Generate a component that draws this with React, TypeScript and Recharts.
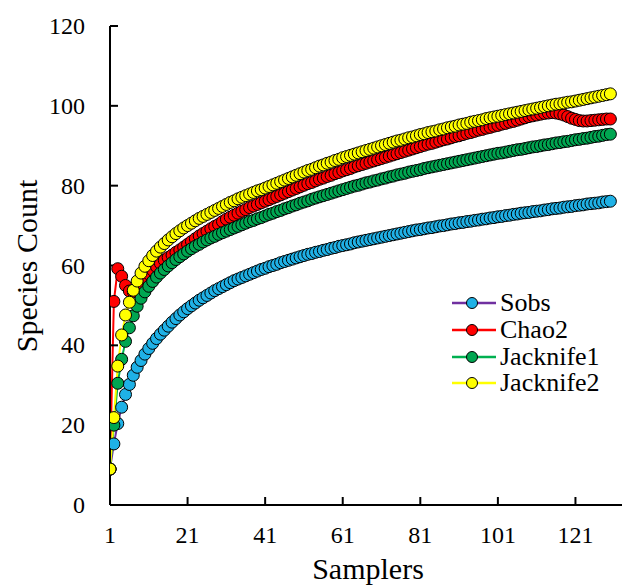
import React from "react";
import { LineChart, Line, XAxis, YAxis, Legend } from "recharts";

// species accumulation curves, one value per sampler (1..130)
const sobs = [
  9, 15.3, 20.4, 24.5, 27.7, 30.2, 32.5, 34.5, 36.2, 37.8,
  39.2, 40.5, 41.7, 42.8, 43.8, 44.8, 45.8, 46.7, 47.6, 48.4,
  49.2, 49.9, 50.6, 51.3, 51.9, 52.5, 53.1, 53.7, 54.2, 54.7,
  55.2, 55.7, 56.2, 56.6, 57.0, 57.4, 57.8, 58.2, 58.6, 59.0,
  59.3, 59.7, 60.0, 60.3, 60.7, 61.0, 61.3, 61.6, 61.9, 62.2,
  62.5, 62.8, 63.0, 63.3, 63.5, 63.8, 64.0, 64.3, 64.5, 64.8,
  65.0, 65.2, 65.4, 65.7, 65.9, 66.1, 66.3, 66.5, 66.7, 66.9,
  67.1, 67.3, 67.5, 67.7, 67.9, 68.1, 68.3, 68.5, 68.7, 68.9,
  69.0, 69.2, 69.4, 69.5, 69.7, 69.9, 70.0, 70.2, 70.4, 70.5,
  70.7, 70.8, 71.0, 71.1, 71.3, 71.4, 71.6, 71.7, 71.9, 72.0,
  72.2, 72.3, 72.5, 72.6, 72.8, 72.9, 73.1, 73.2, 73.3, 73.5,
  73.6, 73.7, 73.9, 74.0, 74.2, 74.3, 74.4, 74.6, 74.7, 74.8,
  75.0, 75.1, 75.2, 75.4, 75.5, 75.6, 75.7, 75.9, 76.0, 76.1,
];

const chao2 = [
  9, 51, 59.2, 57.3, 55, 53.6, 53.4, 54.3, 55.6, 56.8,
  57.9, 58.8, 59.7, 60.5, 61.3, 62.0, 62.6, 63.3, 63.9, 64.6,
  65.3, 66.0, 66.7, 67.4, 68.0, 68.6, 69.2, 69.8, 70.3, 71.0,
  71.6, 72.1, 72.6, 73.1, 73.6, 74.0, 74.5, 74.9, 75.3, 75.7,
  76.1, 76.5, 76.9, 77.3, 77.7, 78.1, 78.5, 78.9, 79.3, 79.7,
  80.1, 80.5, 80.8, 81.2, 81.6, 81.9, 82.3, 82.6, 83.0, 83.3,
  83.7, 84.0, 84.3, 84.7, 85.0, 85.3, 85.6, 85.9, 86.2, 86.5,
  86.8, 87.1, 87.4, 87.7, 88.0, 88.3, 88.6, 88.9, 89.2, 89.5,
  89.8, 90.1, 90.4, 90.6, 90.9, 91.2, 91.5, 91.7, 92.0, 92.3,
  92.5, 92.8, 93.1, 93.3, 93.6, 93.9, 94.1, 94.4, 94.6, 94.9,
  95.1, 95.4, 95.6, 95.9, 96.1, 96.4, 96.7, 97.0, 97.3, 97.5,
  97.7, 97.9, 98.1, 98.2, 98.3, 98.2, 98.0, 97.7, 97.3, 96.9,
  96.6, 96.3, 96.2, 96.2, 96.3, 96.4, 96.5, 96.6, 96.7, 96.7,
];

const jack1 = [
  9, 20, 30.5, 36.5, 41, 44.4, 47.4, 49.8, 51.8, 53.4,
  54.8, 56.0, 57.1, 58.1, 59.0, 59.9, 60.7, 61.5, 62.2, 62.9,
  63.6, 64.2, 64.8, 65.3, 65.9, 66.4, 66.9, 67.3, 67.8, 68.2,
  68.6, 69.0, 69.4, 69.8, 70.2, 70.6, 71.0, 71.3, 71.7, 72.0,
  72.4, 72.8, 73.1, 73.5, 73.8, 74.2, 74.5, 74.9, 75.2, 75.6,
  75.9, 76.2, 76.6, 76.9, 77.2, 77.5, 77.8, 78.1, 78.4, 78.7,
  79.0, 79.3, 79.6, 79.9, 80.1, 80.4, 80.7, 80.9, 81.2, 81.4,
  81.7, 81.9, 82.2, 82.4, 82.7, 82.9, 83.1, 83.4, 83.6, 83.8,
  84.0, 84.3, 84.5, 84.7, 84.9, 85.1, 85.3, 85.5, 85.7, 85.9,
  86.1, 86.3, 86.5, 86.7, 86.9, 87.1, 87.3, 87.5, 87.7, 87.9,
  88.1, 88.2, 88.4, 88.6, 88.8, 89.0, 89.1, 89.3, 89.5, 89.7,
  89.8, 90.0, 90.2, 90.3, 90.5, 90.7, 90.8, 91.0, 91.1, 91.3,
  91.5, 91.6, 91.8, 91.9, 92.1, 92.3, 92.4, 92.6, 92.8, 92.9,
];

const jack2 = [
  9, 21.9, 34.8, 42.6, 47.6, 50.8, 53.8, 56.1, 58.1, 59.8,
  61.2, 62.5, 63.6, 64.6, 65.5, 66.4, 67.2, 68.0, 68.7, 69.4,
  70.0, 70.6, 71.2, 71.8, 72.3, 72.8, 73.3, 73.8, 74.3, 74.8,
  75.3, 75.8, 76.2, 76.7, 77.1, 77.5, 77.9, 78.3, 78.7, 79.0,
  79.4, 79.8, 80.2, 80.6, 81.0, 81.4, 81.8, 82.2, 82.6, 83.0,
  83.4, 83.8, 84.1, 84.5, 84.9, 85.2, 85.6, 85.9, 86.3, 86.6,
  87.0, 87.3, 87.6, 87.9, 88.2, 88.5, 88.8, 89.1, 89.4, 89.7,
  90.0, 90.3, 90.6, 90.9, 91.2, 91.4, 91.7, 92.0, 92.2, 92.5,
  92.8, 93.0, 93.3, 93.5, 93.7, 94.0, 94.2, 94.5, 94.7, 94.9,
  95.2, 95.4, 95.6, 95.9, 96.1, 96.3, 96.5, 96.8, 97.0, 97.2,
  97.4, 97.6, 97.8, 98.0, 98.2, 98.4, 98.6, 98.8, 99.0, 99.2,
  99.4, 99.6, 99.8, 100.0, 100.2, 100.4, 100.5, 100.7, 100.9, 101.0,
  101.2, 101.4, 101.6, 101.8, 102.0, 102.2, 102.4, 102.6, 102.8, 103.0,
];

const xTicks = [1, 21, 41, 61, 81, 101, 121];
const yTicks = [0, 20, 40, 60, 80, 100, 120];

const seriesList = [
  { key: "Sobs", line: "#7030A0", fill: "#1FB1E6" },
  { key: "Chao2", line: "#FF0000", fill: "#FF0000" },
  { key: "Jacknife1", line: "#00B050", fill: "#00A651" },
  { key: "Jacknife2", line: "#FFFF00", fill: "#FFFF00" },
];

const data = sobs.map((v, i) => ({
  sample: i + 1,
  Sobs: v,
  Chao2: chao2[i],
  Jacknife1: jack1[i],
  Jacknife2: jack2[i],
}));

const FONT = "'Liberation Serif', 'Times New Roman', Times, serif";

const XTick = (p: any) => (
  <text x={p.x} y={p.y} dy={17} textAnchor="middle" fontSize={24} fontFamily={FONT} fill="#000">
    {p.payload.value}
  </text>
);

const YTick = (p: any) => (
  <text x={p.x} y={p.y} dy={8} textAnchor="end" fontSize={24} fontFamily={FONT} fill="#000">
    {p.payload.value}
  </text>
);

function LegendBox() {
  return (
    <div style={{ fontFamily: FONT, fontSize: 26, color: "#000" }}>
      {seriesList.map((s) => (
        <div key={s.key} style={{ display: "flex", alignItems: "center", height: 26.7 }}>
          <svg width={46} height={20} style={{ marginRight: 2 }}>
            <line x1={0} x2={44} y1={10} y2={10} stroke={s.line} strokeWidth={2.5} />
            <circle cx={20} cy={10} r={5.5} fill={s.fill} stroke="#000" strokeWidth={1} />
          </svg>
          <span style={{ lineHeight: "26px", fontFamily: FONT }}>{s.key}</span>
        </div>
      ))}
    </div>
  );
}

export default function App() {
  return (
    <div
      style={{
        position: "absolute",
        left: 0,
        top: 0,
        width: 622,
        height: 588,
        background: "#fff",
        fontFamily: FONT,
      }}
    >
      <LineChart width={622} height={588} data={data} margin={{ top: 26, right: 0, bottom: 0, left: 0 }}>
        <XAxis
          dataKey="sample"
          type="number"
          domain={[1, 133]}
          ticks={xTicks}
          allowDataOverflow
          height={83}
          tickSize={-8}
          tickMargin={29}
          stroke="#000"
          strokeWidth={2}
          tick={XTick}
          label={() => (
            <text x={368} y={579} textAnchor="middle" fontSize={30} fontFamily={FONT} fill="#000">
              Samplers
            </text>
          )}
        />
        <YAxis
          type="number"
          domain={[0, 120]}
          ticks={yTicks}
          width={110}
          tickSize={-8}
          tickMargin={33}
          stroke="#000"
          strokeWidth={2}
          tick={YTick}
          label={() => (
            <text
              x={26}
              y={266}
              transform="rotate(-90 26 266)"
              textAnchor="middle"
              dominantBaseline="central"
              fontSize={30}
              fontFamily={FONT}
              fill="#000"
            >
              Species Count
            </text>
          )}
        />
        <Legend
          layout="horizontal"
          verticalAlign="middle"
          align="center"
          wrapperStyle={{ left: 452, top: 290, width: 170 }}
          content={() => <LegendBox />}
        />
        {seriesList.map((s) => (
          <Line
            key={s.key}
            dataKey={s.key}
            type="linear"
            stroke={s.line}
            strokeWidth={2}
            dot={{ r: 6, fill: s.fill, stroke: "#000", strokeWidth: 1 }}
            activeDot={false}
            isAnimationActive={false}
          />
        ))}
      </LineChart>
    </div>
  );
}
